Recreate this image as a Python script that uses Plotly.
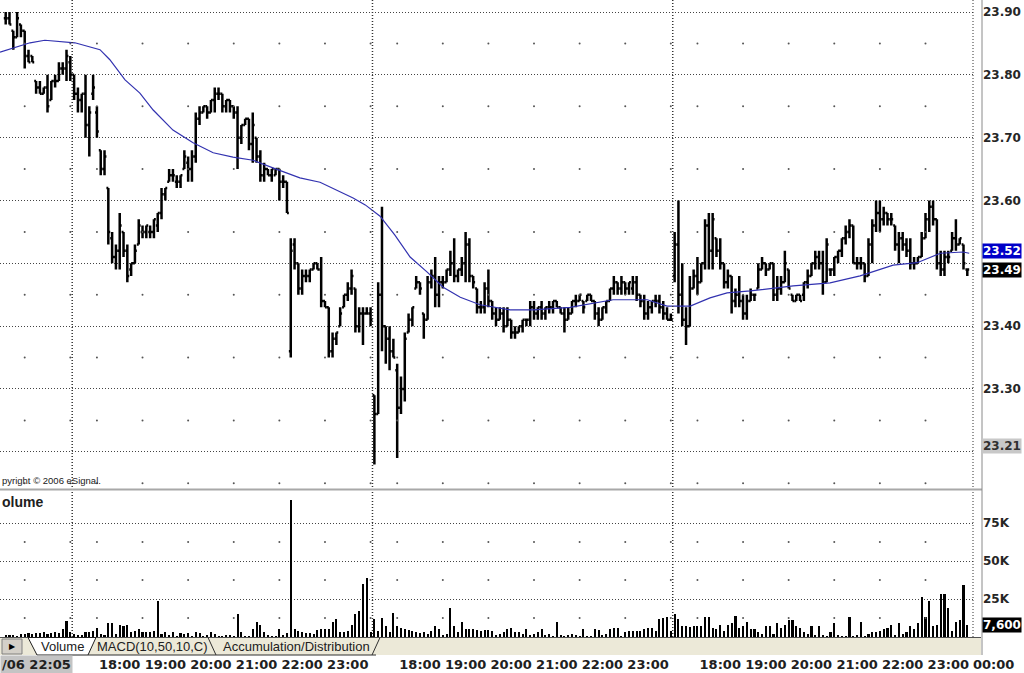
import plotly.graph_objects as go

# ---------------- data ----------------
# 5-minute OHLC bars, one list per trading session: (open, high, low, close)
session1_ohlc = [
    (23.89, 23.90, 23.88, 23.89), (23.89, 23.90, 23.88, 23.88), (23.87, 23.87, 23.84, 23.86),
    (23.86, 23.90, 23.86, 23.89), (23.88, 23.88, 23.86, 23.87), (23.87, 23.87, 23.81, 23.83),
    (23.83, 23.84, 23.82, 23.82), (23.83, 23.83, 23.82, 23.82), (23.79, 23.79, 23.77, 23.78),
    (23.78, 23.79, 23.77, 23.77), (23.77, 23.78, 23.77, 23.78), (23.78, 23.80, 23.74, 23.75),
    (23.76, 23.79, 23.76, 23.79), (23.79, 23.80, 23.78, 23.79), (23.79, 23.82, 23.79, 23.81),
    (23.81, 23.82, 23.80, 23.81), (23.81, 23.84, 23.79, 23.83), (23.82, 23.83, 23.79, 23.80),
]
session2_ohlc = [
    (23.80, 23.80, 23.76, 23.77), (23.77, 23.78, 23.74, 23.76), (23.76, 23.77, 23.74, 23.77),
    (23.77, 23.80, 23.70, 23.72), (23.72, 23.75, 23.67, 23.74), (23.77, 23.80, 23.76, 23.78),
    (23.74, 23.75, 23.70, 23.71), (23.68, 23.68, 23.64, 23.65), (23.65, 23.68, 23.64, 23.67),
    (23.62, 23.62, 23.53, 23.55), (23.54, 23.55, 23.50, 23.51), (23.51, 23.53, 23.49, 23.52),
    (23.52, 23.58, 23.49, 23.56), (23.55, 23.55, 23.51, 23.52), (23.52, 23.53, 23.47, 23.48),
    (23.49, 23.50, 23.48, 23.50), (23.50, 23.53, 23.50, 23.52), (23.53, 23.57, 23.53, 23.56),
    (23.55, 23.56, 23.54, 23.55), (23.55, 23.56, 23.54, 23.56), (23.55, 23.56, 23.54, 23.55),
    (23.55, 23.57, 23.54, 23.57), (23.56, 23.58, 23.55, 23.58), (23.58, 23.62, 23.57, 23.61),
    (23.61, 23.62, 23.60, 23.62), (23.63, 23.65, 23.63, 23.64), (23.64, 23.65, 23.63, 23.64),
    (23.63, 23.64, 23.62, 23.63), (23.63, 23.64, 23.62, 23.64), (23.65, 23.68, 23.65, 23.67),
    (23.66, 23.67, 23.63, 23.65), (23.65, 23.68, 23.63, 23.67), (23.67, 23.74, 23.66, 23.73),
    (23.73, 23.75, 23.72, 23.74), (23.74, 23.75, 23.74, 23.75), (23.75, 23.75, 23.73, 23.74),
    (23.74, 23.76, 23.74, 23.76), (23.76, 23.78, 23.74, 23.77), (23.77, 23.78, 23.76, 23.77),
    (23.77, 23.77, 23.74, 23.75), (23.75, 23.76, 23.74, 23.76), (23.76, 23.76, 23.74, 23.75),
    (23.75, 23.75, 23.73, 23.74), (23.74, 23.75, 23.65, 23.70), (23.70, 23.72, 23.69, 23.72),
    (23.72, 23.73, 23.72, 23.73), (23.73, 23.73, 23.68, 23.69), (23.69, 23.74, 23.66, 23.72),
    (23.70, 23.70, 23.66, 23.67), (23.67, 23.68, 23.63, 23.64), (23.64, 23.66, 23.63, 23.65),
    (23.65, 23.65, 23.64, 23.64), (23.64, 23.65, 23.63, 23.65), (23.64, 23.65, 23.64, 23.65),
    (23.65, 23.65, 23.60, 23.63), (23.63, 23.64, 23.62, 23.63), (23.63, 23.63, 23.58, 23.58),
    (23.36, 23.54, 23.35, 23.52), (23.53, 23.54, 23.49, 23.50), (23.50, 23.50, 23.45, 23.46),
    (23.46, 23.49, 23.45, 23.48), (23.48, 23.49, 23.47, 23.48), (23.48, 23.49, 23.47, 23.49),
    (23.49, 23.50, 23.49, 23.50), (23.50, 23.50, 23.49, 23.49), (23.49, 23.51, 23.43, 23.44),
    (23.44, 23.44, 23.43, 23.43), (23.43, 23.43, 23.35, 23.36), (23.36, 23.39, 23.35, 23.38),
    (23.38, 23.39, 23.37, 23.39), (23.40, 23.43, 23.40, 23.42), (23.43, 23.45, 23.43, 23.45),
    (23.45, 23.47, 23.44, 23.46), (23.46, 23.49, 23.45, 23.48), (23.46, 23.46, 23.39, 23.40),
    (23.40, 23.43, 23.39, 23.42), (23.42, 23.43, 23.37, 23.42), (23.42, 23.43, 23.42, 23.42),
    (23.42, 23.43, 23.40, 23.41),
]
session3_ohlc = [
    (23.29, 23.29, 23.18, 23.26), (23.26, 23.47, 23.26, 23.45), (23.45, 23.59, 23.36, 23.40),
    (23.40, 23.40, 23.34, 23.38), (23.38, 23.40, 23.33, 23.36), (23.36, 23.38, 23.35, 23.35),
    (23.33, 23.34, 23.19, 23.27), (23.27, 23.32, 23.26, 23.30), (23.30, 23.39, 23.28, 23.38),
    (23.39, 23.42, 23.39, 23.41), (23.41, 23.43, 23.40, 23.43), (23.46, 23.48, 23.46, 23.47),
    (23.47, 23.47, 23.45, 23.46), (23.42, 23.42, 23.38, 23.41), (23.41, 23.48, 23.41, 23.47),
    (23.47, 23.49, 23.46, 23.48), (23.48, 23.51, 23.43, 23.45), (23.45, 23.48, 23.43, 23.47),
    (23.47, 23.48, 23.46, 23.47), (23.47, 23.49, 23.47, 23.49), (23.49, 23.52, 23.48, 23.50),
    (23.50, 23.54, 23.47, 23.48), (23.48, 23.49, 23.47, 23.49), (23.49, 23.51, 23.48, 23.50),
    (23.50, 23.55, 23.47, 23.53), (23.53, 23.54, 23.47, 23.48), (23.48, 23.48, 23.46, 23.47),
    (23.46, 23.46, 23.42, 23.43), (23.43, 23.44, 23.42, 23.43), (23.43, 23.47, 23.42, 23.46),
    (23.46, 23.49, 23.43, 23.44), (23.44, 23.44, 23.41, 23.42), (23.42, 23.43, 23.40, 23.41),
    (23.41, 23.43, 23.41, 23.42), (23.42, 23.43, 23.39, 23.40), (23.40, 23.43, 23.40, 23.41),
    (23.41, 23.41, 23.38, 23.39), (23.39, 23.40, 23.38, 23.39), (23.39, 23.40, 23.39, 23.40),
    (23.40, 23.41, 23.39, 23.41), (23.41, 23.41, 23.40, 23.41), (23.41, 23.44, 23.40, 23.43),
    (23.43, 23.44, 23.41, 23.42), (23.42, 23.43, 23.41, 23.43), (23.43, 23.44, 23.41, 23.42),
    (23.42, 23.43, 23.41, 23.43), (23.43, 23.44, 23.42, 23.43), (23.43, 23.44, 23.42, 23.44),
    (23.44, 23.44, 23.43, 23.43), (23.43, 23.43, 23.42, 23.42), (23.42, 23.43, 23.39, 23.41),
    (23.41, 23.43, 23.41, 23.42), (23.42, 23.44, 23.42, 23.44), (23.44, 23.45, 23.43, 23.44),
    (23.44, 23.45, 23.44, 23.45), (23.44, 23.44, 23.42, 23.43), (23.44, 23.45, 23.44, 23.45),
    (23.45, 23.45, 23.44, 23.44), (23.44, 23.44, 23.41, 23.42), (23.42, 23.43, 23.40, 23.41),
    (23.41, 23.43, 23.41, 23.43), (23.43, 23.44, 23.42, 23.44), (23.44, 23.46, 23.44, 23.46),
    (23.46, 23.48, 23.45, 23.47), (23.47, 23.47, 23.45, 23.46), (23.46, 23.48, 23.45, 23.47),
    (23.47, 23.47, 23.45, 23.46), (23.46, 23.47, 23.45, 23.47), (23.46, 23.48, 23.45, 23.47),
    (23.47, 23.48, 23.44, 23.45), (23.45, 23.45, 23.43, 23.44), (23.44, 23.45, 23.41, 23.42),
    (23.42, 23.44, 23.41, 23.43), (23.43, 23.44, 23.42, 23.44), (23.44, 23.45, 23.43, 23.44),
    (23.44, 23.45, 23.42, 23.43), (23.43, 23.44, 23.41, 23.42), (23.42, 23.43, 23.41, 23.41),
    (23.41, 23.42, 23.41, 23.41),
]
session4_ohlc = [
    (23.48, 23.55, 23.47, 23.53), (23.53, 23.60, 23.42, 23.45), (23.45, 23.50, 23.40, 23.41),
    (23.41, 23.43, 23.37, 23.40), (23.40, 23.48, 23.40, 23.46), (23.46, 23.49, 23.46, 23.48),
    (23.48, 23.51, 23.45, 23.47), (23.47, 23.50, 23.47, 23.50), (23.50, 23.57, 23.49, 23.56),
    (23.56, 23.58, 23.49, 23.52), (23.52, 23.58, 23.49, 23.57), (23.54, 23.54, 23.51, 23.52),
    (23.52, 23.54, 23.49, 23.50), (23.50, 23.50, 23.46, 23.47), (23.47, 23.49, 23.46, 23.48),
    (23.48, 23.48, 23.42, 23.44), (23.44, 23.46, 23.43, 23.45), (23.45, 23.48, 23.43, 23.44),
    (23.44, 23.45, 23.41, 23.42), (23.42, 23.45, 23.41, 23.44), (23.44, 23.46, 23.44, 23.45),
    (23.45, 23.45, 23.44, 23.45), (23.46, 23.50, 23.46, 23.49), (23.49, 23.51, 23.49, 23.50),
    (23.50, 23.50, 23.48, 23.49), (23.49, 23.50, 23.49, 23.50), (23.50, 23.50, 23.44, 23.45),
    (23.45, 23.48, 23.44, 23.46), (23.46, 23.48, 23.45, 23.47), (23.47, 23.52, 23.47, 23.50),
    (23.49, 23.49, 23.46, 23.46), (23.45, 23.45, 23.44, 23.44), (23.44, 23.45, 23.44, 23.45),
    (23.45, 23.45, 23.44, 23.44), (23.45, 23.47, 23.44, 23.47), (23.47, 23.49, 23.46, 23.48),
    (23.48, 23.50, 23.48, 23.50), (23.50, 23.52, 23.49, 23.51), (23.51, 23.52, 23.49, 23.50),
    (23.50, 23.52, 23.45, 23.47), (23.47, 23.54, 23.47, 23.53), (23.49, 23.49, 23.48, 23.49),
    (23.49, 23.51, 23.48, 23.51), (23.51, 23.52, 23.50, 23.52), (23.52, 23.54, 23.51, 23.54),
    (23.54, 23.56, 23.53, 23.55), (23.55, 23.57, 23.54, 23.56), (23.56, 23.56, 23.50, 23.50),
    (23.50, 23.51, 23.49, 23.50), (23.50, 23.51, 23.49, 23.50), (23.50, 23.50, 23.47, 23.48),
    (23.48, 23.54, 23.48, 23.53), (23.53, 23.57, 23.50, 23.56), (23.56, 23.60, 23.55, 23.58),
    (23.58, 23.60, 23.55, 23.57), (23.57, 23.59, 23.56, 23.58), (23.58, 23.58, 23.56, 23.57),
    (23.57, 23.58, 23.56, 23.57), (23.56, 23.56, 23.52, 23.53), (23.53, 23.55, 23.50, 23.54),
    (23.54, 23.55, 23.52, 23.53), (23.53, 23.54, 23.51, 23.52), (23.52, 23.54, 23.49, 23.50),
    (23.50, 23.51, 23.49, 23.50), (23.50, 23.51, 23.50, 23.51), (23.51, 23.55, 23.51, 23.54),
    (23.54, 23.58, 23.54, 23.57), (23.57, 23.60, 23.55, 23.59), (23.59, 23.60, 23.56, 23.57),
    (23.57, 23.57, 23.49, 23.50), (23.50, 23.52, 23.48, 23.49), (23.49, 23.52, 23.48, 23.51),
    (23.51, 23.52, 23.50, 23.51), (23.52, 23.55, 23.52, 23.54), (23.54, 23.57, 23.52, 23.53),
    (23.53, 23.54, 23.53, 23.54), (23.53, 23.53, 23.49, 23.50), (23.49, 23.49, 23.48, 23.49),
]

# volume per bar, in thousands of shares
session1_volume_k = [1.2, 0.8, 1.5, 0.6, 2.2, 2.0, 2.4, 1.8, 2.5, 2.8, 3.0, 2.2, 2.5, 3.5, 2.8, 5.0, 10.5, 3.0]
session2_volume_k = [2, 1.5, 1, 3, 3, 4, 6, 2, 1.5, 9,
                     9, 2, 8, 7, 8, 3, 4, 5, 3, 3,
                     3.5, 4, 24, 2, 3, 1, 3, 0.5, 2.5, 2,
                     2.5, 0.5, 3, 2.5, 0.5, 1.5, 3.5, 2, 0.5, 0.3,
                     1, 1, 0.5, 15, 3, 0.5, 0.5, 5, 10, 8,
                     3, 1, 0.5, 0.5, 5.5, 1, 2.5, 90, 5, 4,
                     3, 2.5, 2.5, 2, 4.5, 5, 5, 5, 10, 12,
                     3, 3.5, 4, 8, 15, 17, 35, 39, 3]
session3_volume_k = [12, 4, 12.5, 7, 3, 16, 7, 6, 5, 4.5,
                     4, 3.5, 2.5, 3, 2, 4, 7, 5, 1.5, 2,
                     19, 7, 3, 10, 5, 5, 5, 4.5, 4, 4.5,
                     4.5, 4, 1, 2, 3, 5, 6, 3, 3, 2,
                     5, 1, 2, 3, 5, 1.5, 2, 0.5, 10, 1.5,
                     0.5, 1, 2, 1, 0.5, 5, 0.5, 0.5, 5, 4.5,
                     1, 2, 5, 6, 6, 0.5, 3, 4, 4, 4,
                     4, 5, 6, 6, 4, 12, 12.5, 13, 4]
session4_volume_k = [15, 12, 7, 7, 6.5, 7, 7, 7.5, 13, 13,
                     6, 5, 8, 4, 8, 9, 14, 6, 7, 10,
                     5, 5.5, 3, 2, 7, 7, 2, 9, 6, 8,
                     11, 11, 7, 6, 3, 2, 7, 1, 7, 1,
                     0.5, 3, 9, 1, 0.5, 0.5, 13, 0.5, 1, 10,
                     0.5, 2, 3, 3, 4, 5, 6, 8, 1, 9,
                     2, 3, 7, 5, 9, 26, 13, 24, 7, 8,
                     28, 28, 19, 4, 10, 11, 34, 7.6]

# session start times (minutes after midnight) and bar length
session_start_minutes = [22 * 60 + 5, 17 * 60, 17 * 60, 17 * 60]
bar_minutes = 5

# moving average: (bar position, value)
ma_bar = [-1.5, 6.4, 10.3, 18.2, 24.8, 27.4, 31.4, 35.3, 38.8, 44.0,
          49.3, 54.6, 59.8, 65.1, 70.3, 77.4, 82.7, 88.0, 91.4, 94.6,
          98.5, 102.4, 106.4, 110.9, 115.1, 119.6, 124.8, 132.7, 138.8, 148.5,
          159.8, 168.8, 174.0, 180.1, 185.3, 189.8, 195.9, 207.2, 216.9, 224.8,
          233.5, 239.8, 245.9, 251.9, 253.5]
ma_value = [23.836, 23.851, 23.855, 23.851, 23.840, 23.824, 23.792, 23.771, 23.744, 23.712,
            23.692, 23.676, 23.669, 23.664, 23.652, 23.636, 23.629, 23.614, 23.604, 23.593,
            23.575, 23.545, 23.510, 23.486, 23.462, 23.446, 23.434, 23.426, 23.426, 23.430,
            23.442, 23.442, 23.432, 23.432, 23.445, 23.453, 23.456, 23.464, 23.469, 23.480,
            23.497, 23.501, 23.516, 23.518, 23.516]

hour_labels = ["18:00", "19:00", "20:00", "21:00", "22:00", "23:00"]
end_label = "00:00"
first_bar_label = "/06 22:05"
copyright_text = "pyright © 2006 eSignal."   # left part is cut off in the reference
panel_title = "olume"                        # "Volume", first letter cut off in the reference
price_ticks = [23.20, 23.30, 23.40, 23.50, 23.60, 23.70, 23.80, 23.90]
price_tick_text = ["", "23.30", "23.40", "", "23.60", "23.70", "23.80", "23.90"]
volume_ticks_k = [25, 50, 75]
volume_tick_text = ["25K", "50K", "75K"]
price_dot_levels = [23.15, 23.25, 23.35, 23.45, 23.55, 23.65, 23.75, 23.85]
volume_dot_levels_k = [12.5, 37.5, 62.5]
ma_last = 23.52
last_close = 23.49
cursor_price = 23.21
last_volume_k = 7.6

# ---------------- build series ----------------
sessions = [session1_ohlc, session2_ohlc, session3_ohlc, session4_ohlc]
volumes = [session1_volume_k, session2_volume_k, session3_volume_k, session4_volume_k]
bar_x, op, hi, lo, cl, vol, bar_time, starts = [], [], [], [], [], [], [], []
for rows, vols, t0 in zip(sessions, volumes, session_start_minutes):
    assert len(rows) == len(vols)
    starts.append(len(bar_x))
    for j, (row, v) in enumerate(zip(rows, vols)):
        bar_x.append(len(bar_x))
        op.append(row[0]); hi.append(row[1]); lo.append(row[2]); cl.append(row[3])
        vol.append(v)
        bar_time.append(t0 + j * bar_minutes)

tick_pos, tick_txt = [], []
for s in range(1, len(sessions)):
    for lab in hour_labels:
        hh = int(lab[:2])
        tick_pos.append(starts[s] + (hh * 60 - session_start_minutes[s]) / bar_minutes)
        tick_txt.append(lab)
end_pos = starts[-1] + (24 * 60 - session_start_minutes[-1]) / bar_minutes

half_hour_x = [x for x, t in zip(bar_x, bar_time) if t % 60 == 30]
separators = [st - 0.5 for st in starts[1:]]

# ---------------- geometry ----------------
W, H = 1024, 673
ML, MR, MT, MB = 0, 51, 0, 36
PW, PH = W - ML - MR, H - MT - MB  # plot area 973 x 637


def px(x):
    return x / PW


def py(y):
    return (PH - y) / PH


PRICE_BOTTOM_PX, VOL_TOP_PX = 488, 491
x_range = [-1.5, len(bar_x) + 0.5]
price_range = [23.90 - (PRICE_BOTTOM_PX - 12) / 628.3, 23.90 + 12 / 628.3]
vol_range = [0, (PH - VOL_TOP_PX) / 38 * 25]
end_paper_x = (end_pos - x_range[0]) / (x_range[1] - x_range[0])

GRID = "#444444"
DOT = "1px,2px"
AXFONT = dict(family="DejaVu Sans", size=12, color="#262626", weight="bold")

fig = go.Figure()

# dot grid (half-hour / half-level marks)
fig.add_trace(go.Scatter(
    x=[x for x in half_hour_x for _ in price_dot_levels],
    y=[lv for _ in half_hour_x for lv in price_dot_levels],
    mode="markers", marker=dict(size=2, color="#555555"),
    xaxis="x", yaxis="y", hoverinfo="skip", showlegend=False))
fig.add_trace(go.Scatter(
    x=[x for x in half_hour_x for _ in volume_dot_levels_k],
    y=[lv for _ in half_hour_x for lv in volume_dot_levels_k],
    mode="markers", marker=dict(size=2, color="#555555"),
    xaxis="x2", yaxis="y2", hoverinfo="skip", showlegend=False))

# moving average
fig.add_trace(go.Scatter(x=ma_bar, y=ma_value, mode="lines",
                         line=dict(color="#3232b0", width=1.2),
                         xaxis="x", yaxis="y", hoverinfo="skip", showlegend=False))

# price bars
fig.add_trace(go.Ohlc(
    x=bar_x, open=op, high=hi, low=lo, close=cl,
    increasing=dict(line=dict(color="black", width=2.5)),
    decreasing=dict(line=dict(color="black", width=2.5)),
    tickwidth=0.5, xaxis="x", yaxis="y", showlegend=False, hoverinfo="skip"))

# volume bars
fig.add_trace(go.Bar(x=bar_x, y=vol, width=0.55, marker=dict(color="black", line=dict(width=0)),
                     xaxis="x2", yaxis="y2", showlegend=False, hoverinfo="skip"))

shapes = []
for sx in separators:
    shapes.append(dict(type="line", xref="x", yref="paper", x0=sx, x1=sx, y0=0, y1=1,
                       line=dict(color="#333333", width=1.5, dash=DOT)))
shapes.append(dict(type="line", xref="paper", yref="paper", x0=1, x1=1, y0=0, y1=1,
                   line=dict(color="#333333", width=1, dash=DOT)))
# panel separator
shapes.append(dict(type="line", xref="paper", yref="paper", x0=0, x1=px(982), y0=py(489.5), y1=py(489.5),
                   line=dict(color="#a8a8a8", width=2)))
# right border of axis area
shapes.append(dict(type="line", xref="paper", yref="paper", x0=px(982), x1=px(982), y0=py(655), y1=1,
                   line=dict(color="#8a8a8a", width=1)))
# tab bar
shapes.append(dict(type="rect", xref="paper", yref="paper", x0=0, x1=px(981), y0=py(655), y1=py(637.5),
                   fillcolor="#ECE9D8", line=dict(width=0), layer="above"))
shapes.append(dict(type="line", xref="paper", yref="paper", x0=0, x1=px(981), y0=py(637.5), y1=py(637.5),
                   line=dict(color="#505050", width=1), layer="above"))
shapes.append(dict(type="rect", xref="paper", yref="paper", x0=px(2), x1=px(22), y0=py(654), y1=py(639),
                   fillcolor="#D4D0C8", line=dict(color="#808080", width=1), layer="above"))
shapes.append(dict(type="path", xref="paper", yref="paper", layer="above",
                   path=f"M {px(28)},{py(637.5)} L {px(37)},{py(655)} L {px(88)},{py(655)} L {px(96)},{py(637.5)} Z",
                   fillcolor="white", line=dict(color="#202020", width=1)))
for (xa, ya, xb, yb) in [(208, 637.5, 216, 655), (372, 655, 380, 637.5), (88, 655, 376, 655)]:
    shapes.append(dict(type="line", xref="paper", yref="paper", layer="above",
                       x0=px(xa), y0=py(ya), x1=px(xb), y1=py(yb),
                       line=dict(color="#303030", width=1)))

ann = []
LBL = dict(family="DejaVu Sans", size=12, color="white", weight="bold")
for val, bg, fc in [(ma_last, "#0000c8", "white"), (last_close, "black", "white"),
                    (cursor_price, "#c8c8c8", "#303030")]:
    ann.append(dict(xref="paper", yref="y", x=1, y=val, xanchor="left", yanchor="middle", xshift=9,
                    text=f"{val:.2f}", showarrow=False, bgcolor=bg, borderpad=0,
                    font=dict(family="DejaVu Sans", size=12, color=fc, weight="bold")))
ann.append(dict(xref="paper", yref="y2", x=1, y=last_volume_k, xanchor="left", yanchor="middle", xshift=9,
                text=f"{last_volume_k * 1000:,.0f}", showarrow=False, bgcolor="black", borderpad=0,
                font=LBL))
ann.append(dict(xref="paper", yref="paper", x=0, y=py(481), xanchor="left", yanchor="middle",
                text=copyright_text, showarrow=False,
                font=dict(family="Liberation Sans", size=9.5, color="#202020")))
ann.append(dict(xref="paper", yref="paper", x=0, y=py(502), xanchor="left", yanchor="middle",
                text=panel_title, showarrow=False,
                font=dict(family="Liberation Sans", size=14, color="#202020", weight="bold")))
ann.append(dict(xref="paper", yref="paper", x=0, y=py(664), xanchor="left", yanchor="middle",
                text=first_bar_label, showarrow=False, bgcolor="#c4c4c4", borderpad=1,
                font=dict(family="DejaVu Sans", size=13, color="#202020", weight="bold")))
ann.append(dict(xref="paper", yref="paper", x=end_paper_x, y=py(664), xanchor="center", yanchor="middle",
                text=end_label, showarrow=False,
                font=dict(family="DejaVu Sans", size=13, color="#202020", weight="bold")))
TABF = dict(family="Liberation Sans", size=13, color="#202020")
for text, cx in [("Volume", 62), ("MACD(10,50,10,C)", 152), ("Accumulation/Distribution", 296)]:
    ann.append(dict(xref="paper", yref="paper", x=px(cx), y=py(646.5), xanchor="center", yanchor="middle",
                    text=text, showarrow=False, font=TABF))
ann.append(dict(xref="paper", yref="paper", x=px(12), y=py(646.5), xanchor="center", yanchor="middle",
                text="▶", showarrow=False, font=dict(family="DejaVu Sans", size=8, color="black")))

fig.update_layout(
    width=W, height=H, margin=dict(l=ML, r=MR, t=MT, b=MB),
    paper_bgcolor="white", plot_bgcolor="white", showlegend=False,
    bargap=0,
    xaxis=dict(domain=[0, 1], range=x_range, anchor="y", showticklabels=False, showgrid=False,
               zeroline=False, showline=False, ticks="", rangeslider=dict(visible=False),
               fixedrange=True),
    xaxis2=dict(domain=[0, 1], range=x_range, anchor="y2", matches="x", tickmode="array",
                tickvals=tick_pos, ticktext=tick_txt, showgrid=False, zeroline=False, showline=False,
                ticks="", ticklabelstandoff=18,
                tickfont=dict(family="DejaVu Sans", size=13, color="#202020", weight="bold")),
    yaxis=dict(domain=[py(PRICE_BOTTOM_PX), 1], range=price_range, anchor="x", side="right",
               tickmode="array", tickvals=price_ticks, ticktext=price_tick_text,
               showgrid=True, gridcolor=GRID, griddash=DOT, gridwidth=1, zeroline=False,
               showline=False, ticks="", ticklabelstandoff=9, tickfont=AXFONT, fixedrange=True),
    yaxis2=dict(domain=[0, py(VOL_TOP_PX)], range=vol_range, anchor="x2", side="right",
                tickmode="array", tickvals=volume_ticks_k, ticktext=volume_tick_text,
                showgrid=True, gridcolor=GRID, griddash=DOT, gridwidth=1, zeroline=False,
                showline=False, ticks="", ticklabelstandoff=9, tickfont=AXFONT, fixedrange=True),
    shapes=shapes, annotations=ann,
)

fig.write_html("out.html", config={"displayModeBar": False},
               post_script="document.body.style.margin='0';document.body.style.overflow='hidden';")
